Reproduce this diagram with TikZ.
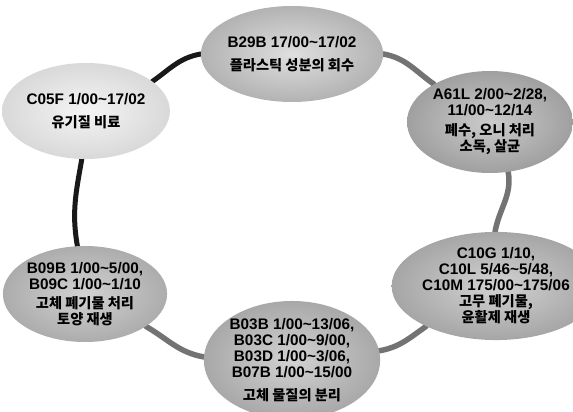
\documentclass[tikz,border=0pt]{standalone}
\usepackage{fontspec}
\setmainfont{Liberation Sans}
\newfontfamily\krfont[Scale=0.93]{Noto Sans CJK KR}
\usetikzlibrary{shapes.geometric,backgrounds}
\begin{document}
\begin{tikzpicture}[x=1pt,y=-1pt,
  blob/.style={ellipse, inner sep=0pt, align=center,
    font=\fontsize{15.3}{16}\selectfont\bfseries},
  ringline/.style={line width=5.5pt, draw=black!55, line cap=round},
  darkline/.style={line width=5pt, draw=black!90, line cap=round}]
\useasboundingbox (0,0) rectangle (573,412);

\node[blob, minimum width=162pt, minimum height=96pt,
  inner color=gray!8, outer color=gray!30] (LT) at (86,111)
  {C05F 1/00\char`~17/02\\[7pt]{\krfont 유기질 비료}};

\node[blob, minimum width=160pt, minimum height=96pt,
  inner color=gray!25, outer color=gray!60] (T) at (292,54)
  {B29B 17/00\char`~17/02\\[7pt]{\krfont 플라스틱 성분의 회수}};

\node[blob, minimum width=166pt, minimum height=102pt,
  inner color=gray!40, outer color=gray!75] (RT) at (490,122)
  {A61L 2/00\char`~2/28,\\11/00\char`~12/14\\[4pt]{\krfont 폐수, 오니 처리}\\{\krfont 소독, 살균}};

\node[blob, minimum width=156pt, minimum height=106pt,
  inner color=gray!35, outer color=gray!70] (RB) at (496,286)
  {C10G 1/10,\\C10L 5/46\char`~5/48,\\C10M 175/00\char`~175/06\\{\krfont 고무 폐기물,}\\{\krfont 윤활제 재생}};

\node[blob, minimum width=156pt, minimum height=106pt,
  inner color=gray!35, outer color=gray!68] (B) at (292,360)
  {B03B 1/00\char`~13/06,\\B03C 1/00\char`~9/00,\\B03D 1/00\char`~3/06,\\B07B 1/00\char`~15/00\\[7pt]{\krfont 고체 물질의 분리}};

\node[blob, minimum width=156pt, minimum height=96pt,
  inner color=gray!35, outer color=gray!65] (LB) at (85,294)
  {B09B 1/00\char`~5/00,\\B09C 1/00\char`~1/10\\[3pt]{\krfont 고체 폐기물 처리}\\{\krfont 토양 재생}};

\begin{scope}[on background layer]
\draw[darkline] (LT.24) to[out=35, in=190] (T.180);
\draw[ringline] (T.0) to[out=-10, in=145] (RT.146);
\draw[ringline] (RT.-70) to[out=-80, in=80] (RB.91);
\draw[ringline] (RB.210) to[out=215, in=10] (B.6);
\draw[ringline] (B.178) to[out=170, in=-30] (LB.-28);
\draw[darkline] (LB.99) to[out=100, in=-100] (LT.265);
\end{scope}
\end{tikzpicture}
\end{document}
